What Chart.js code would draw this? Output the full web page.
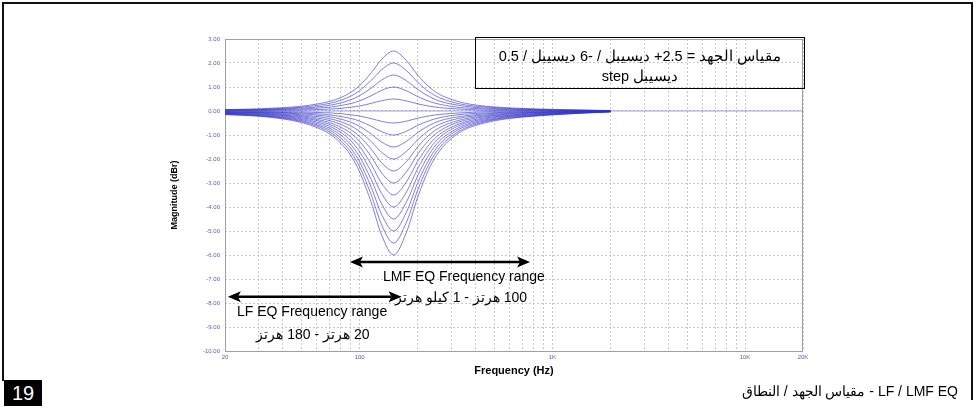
<!DOCTYPE html>
<html><head><meta charset="utf-8">
<script src="https://cdn.jsdelivr.net/npm/chart.js@4"></script>
<style>
html,body{margin:0;padding:0;background:#fff;}
#wrap{position:relative;width:978px;height:408px;overflow:hidden;font-family:Arial,"Liberation Sans",sans-serif;}
canvas{position:absolute;left:0;top:0;}
.abs{position:absolute;white-space:nowrap;color:#000;}
.ln{position:absolute;background:#111;}
</style></head><body>
<div id="wrap">
<canvas id="c" width="978" height="408"></canvas>
<div class="ln" style="left:2px;top:2px;width:971px;height:2px"></div>
<div class="ln" style="left:2px;top:2px;width:2px;height:379px"></div>
<div class="ln" style="left:971px;top:2px;width:2px;height:398px"></div>
<div class="abs" style="left:475px;top:37px;width:330px;height:52px;box-sizing:border-box;border:1.5px solid #000;"></div>
<div class="abs" dir="rtl" style="left:476px;top:47px;width:328px;text-align:center;font-size:14.5px;line-height:19.5px;">مقياس الجهد = 2.5+ ديسيبل / -6 ديسيبل / 0.5<br>ديسيبل step</div>
<div class="abs" style="left:383px;top:268px;font-size:14px;line-height:16px;">LMF EQ Frequency range</div>
<div class="abs" dir="rtl" style="left:381px;top:289px;width:160px;text-align:center;font-size:14px;line-height:16px;">100 هرتز - 1 كيلو هرتز</div>
<div class="abs" style="left:237px;top:303px;font-size:14px;line-height:16px;">LF EQ Frequency range</div>
<div class="abs" dir="rtl" style="left:233px;top:326px;width:160px;text-align:center;font-size:14px;line-height:16px;">20 هرتز - 180 هرتز</div>
<div class="abs" dir="rtl" style="right:20px;top:383px;font-size:14px;line-height:16px;">LF / LMF EQ - مقياس الجهد / النطاق</div>
<div class="abs" style="left:4px;top:380px;width:38px;height:26px;background:#000;color:#fff;font-size:20px;line-height:26px;text-align:center;">19</div>
</div>
<script>
const freqs = [20,30,40,50,60,70,80,90,100,115,130,150,175,200,230,260,300,350,400,500,600,800,1000,1500,2000];

const gainP25 = [0.06,0.09,0.14,0.2,0.29,0.4,0.56,0.78,1.06,1.6,2.15,2.5,2.1,1.5,0.99,0.69,0.48,0.33,0.25,0.17,0.13,0.09,0.07,0.04,0.02];
const gainP20 = [0.05,0.07,0.11,0.16,0.23,0.32,0.45,0.62,0.85,1.28,1.72,2,1.68,1.2,0.79,0.55,0.38,0.26,0.2,0.14,0.1,0.07,0.05,0.03,0.01];
const gainP15 = [0.04,0.06,0.08,0.12,0.17,0.24,0.34,0.47,0.64,0.96,1.29,1.5,1.26,0.9,0.6,0.41,0.29,0.2,0.15,0.1,0.08,0.06,0.04,0.02,0.01];
const gainP10 = [0.03,0.04,0.06,0.08,0.12,0.16,0.23,0.31,0.42,0.64,0.86,1,0.84,0.6,0.4,0.28,0.19,0.13,0.1,0.07,0.05,0.04,0.03,0.01,0.01];
const gainP05 = [0.01,0.02,0.03,0.04,0.06,0.08,0.11,0.16,0.21,0.32,0.43,0.5,0.42,0.3,0.2,0.14,0.1,0.07,0.05,0.03,0.03,0.02,0.01,0.01,0];
const gainM05 = [-0.01,-0.02,-0.03,-0.04,-0.06,-0.08,-0.11,-0.16,-0.21,-0.32,-0.43,-0.5,-0.42,-0.3,-0.2,-0.14,-0.1,-0.07,-0.05,-0.03,-0.03,-0.02,-0.01,-0.01,0];
const gainM10 = [-0.03,-0.04,-0.06,-0.08,-0.12,-0.16,-0.23,-0.31,-0.42,-0.64,-0.86,-1,-0.84,-0.6,-0.4,-0.28,-0.19,-0.13,-0.1,-0.07,-0.05,-0.04,-0.03,-0.01,-0.01];
const gainM15 = [-0.04,-0.06,-0.08,-0.12,-0.17,-0.24,-0.34,-0.47,-0.64,-0.96,-1.29,-1.5,-1.26,-0.9,-0.6,-0.41,-0.29,-0.2,-0.15,-0.1,-0.08,-0.06,-0.04,-0.02,-0.01];
const gainM20 = [-0.05,-0.07,-0.11,-0.16,-0.23,-0.32,-0.45,-0.62,-0.85,-1.28,-1.72,-2,-1.68,-1.2,-0.79,-0.55,-0.38,-0.26,-0.2,-0.14,-0.1,-0.07,-0.05,-0.03,-0.01];
const gainM25 = [-0.06,-0.09,-0.14,-0.2,-0.29,-0.4,-0.56,-0.78,-1.06,-1.6,-2.15,-2.5,-2.1,-1.5,-0.99,-0.69,-0.48,-0.33,-0.25,-0.17,-0.13,-0.09,-0.07,-0.04,-0.02];
const gainM30 = [-0.08,-0.11,-0.17,-0.24,-0.35,-0.48,-0.68,-0.93,-1.27,-1.91,-2.58,-3,-2.53,-1.8,-1.19,-0.83,-0.57,-0.39,-0.3,-0.2,-0.16,-0.11,-0.08,-0.04,-0.02];
const gainM35 = [-0.09,-0.13,-0.19,-0.28,-0.4,-0.56,-0.79,-1.09,-1.48,-2.23,-3.01,-3.5,-2.95,-2.1,-1.39,-0.97,-0.67,-0.46,-0.35,-0.24,-0.18,-0.13,-0.09,-0.05,-0.02];
const gainM40 = [-0.1,-0.15,-0.22,-0.32,-0.46,-0.64,-0.9,-1.24,-1.7,-2.55,-3.44,-4,-3.37,-2.4,-1.59,-1.1,-0.76,-0.52,-0.4,-0.27,-0.21,-0.15,-0.11,-0.06,-0.02];
const gainM45 = [-0.11,-0.17,-0.25,-0.36,-0.52,-0.72,-1.01,-1.4,-1.91,-2.87,-3.87,-4.5,-3.79,-2.7,-1.79,-1.24,-0.86,-0.59,-0.45,-0.31,-0.23,-0.17,-0.12,-0.06,-0.03];
const gainM50 = [-0.13,-0.19,-0.28,-0.4,-0.58,-0.8,-1.13,-1.55,-2.12,-3.19,-4.31,-5,-4.21,-3,-1.99,-1.38,-0.95,-0.65,-0.5,-0.34,-0.26,-0.19,-0.14,-0.07,-0.03];
const gainM55 = [-0.14,-0.2,-0.3,-0.44,-0.63,-0.88,-1.24,-1.71,-2.33,-3.51,-4.74,-5.5,-4.63,-3.3,-2.18,-1.52,-1.05,-0.72,-0.55,-0.37,-0.29,-0.2,-0.15,-0.08,-0.03];
const gainM60 = [-0.15,-0.22,-0.33,-0.48,-0.69,-0.96,-1.35,-1.86,-2.54,-3.83,-5.17,-6,-5.05,-3.6,-2.38,-1.66,-1.14,-0.78,-0.6,-0.41,-0.31,-0.22,-0.16,-0.08,-0.04];

const flatFreqs = [20, 20000];
const flatGain = [0, 0];

const yTickValues = [3,2,1,0,-1,-2,-3,-4,-5,-6,-7,-8,-9,-10];
const yTickLabels = ['3.00','2.00','1.00','0.00','-1.00','-2.00','-3.00','-4.00','-5.00','-6.00','-7.00','-8.00','-9.00','-10.00'];
const xGridValues = [20,30,40,50,60,70,80,90,100,200,300,400,500,600,700,800,900,1000,2000,3000,4000,5000,6000,7000,8000,9000,10000,20000];
const xLabelValues = [20,100,1000,10000,20000];
const xLabelTexts = ['20','100','1K','10K','20K'];

const lmfArrowRange = [89, 766];
const lmfArrowLevel = -6.29;
const lfArrowRange = [20.7, 165];
const lfArrowLevel = -7.74;

const curves = [gainP25,gainP20,gainP15,gainP10,gainP05,gainM05,gainM10,gainM15,gainM20,gainM25,gainM30,gainM35,gainM40,gainM45,gainM50,gainM55,gainM60];
const lineColor = 'rgba(50,50,200,0.62)';
const datasets = curves.map(vals => ({
  data: freqs.map((f,i) => ({x:f, y:vals[i]})),
  borderColor: lineColor, borderWidth: 1, pointRadius: 0,
  cubicInterpolationMode: 'monotone', fill: false
}));
datasets.push({
  data: flatFreqs.map((f,i) => ({x:f, y:flatGain[i]})),
  borderColor: 'rgba(90,90,200,0.55)', borderWidth: 1, pointRadius: 0, fill: false
});

function drawArrow(ctx, x1, x2, y){
  const L = 13, H = 5.5;
  ctx.save();
  ctx.strokeStyle = '#000'; ctx.fillStyle = '#000'; ctx.lineWidth = 2.5;
  ctx.beginPath(); ctx.moveTo(x1 + L - 3, y); ctx.lineTo(x2 - L + 3, y); ctx.stroke();
  ctx.beginPath(); ctx.moveTo(x1, y); ctx.lineTo(x1 + L, y - H); ctx.lineTo(x1 + L - 3, y); ctx.lineTo(x1 + L, y + H); ctx.closePath(); ctx.fill();
  ctx.beginPath(); ctx.moveTo(x2, y); ctx.lineTo(x2 - L, y - H); ctx.lineTo(x2 - L + 3, y); ctx.lineTo(x2 - L, y + H); ctx.closePath(); ctx.fill();
  ctx.restore();
}

const framePlugin = {
  id: 'frameArrows',
  beforeDatasetsDraw(chart){
    const {ctx, chartArea: a} = chart;
    ctx.save();
    ctx.strokeStyle = '#a0a0a0'; ctx.lineWidth = 1;
    ctx.strokeRect(Math.round(a.left) + 0.5, Math.round(a.top) + 0.5, Math.round(a.right - a.left) - 1, Math.round(a.bottom - a.top));
    ctx.restore();
  },
  afterDatasetsDraw(chart){
    const {ctx, scales: {x, y}} = chart;
    drawArrow(ctx, x.getPixelForValue(lmfArrowRange[0]), x.getPixelForValue(lmfArrowRange[1]), y.getPixelForValue(lmfArrowLevel));
    drawArrow(ctx, x.getPixelForValue(lfArrowRange[0]), x.getPixelForValue(lfArrowRange[1]), y.getPixelForValue(lfArrowLevel));
  }
};

new Chart(document.getElementById('c'), {
  type: 'line',
  data: { datasets },
  plugins: [framePlugin],
  options: {
    responsive: false, animation: false, devicePixelRatio: 1,
    layout: { padding: { left: 165, top: 39, right: 175, bottom: 29 } },
    plugins: { legend: { display: false }, tooltip: { enabled: false } },
    scales: {
      x: {
        type: 'logarithmic', min: 20, max: 20000,
        afterBuildTicks: s => { s.ticks = xGridValues.map(v => ({value: v})); },
        afterFit: s => { s.height = 28; },
        ticks: {
          autoSkip: false, maxRotation: 0, padding: 3,
          font: { size: 6, family: 'Arial' }, color: '#5a5ab4',
          callback: v => { const i = xLabelValues.indexOf(v); return i >= 0 ? xLabelTexts[i] : ''; }
        },
        grid: { color: '#c8c8c8', lineWidth: 1, drawTicks: false },
        border: { display: false, dash: [2, 2] },
        title: { display: true, text: 'Frequency (Hz)', font: { size: 11, weight: 'bold', family: 'Arial' }, color: '#000', padding: { top: 0, bottom: 1.5 } }
      },
      y: {
        type: 'linear', min: -10, max: 3,
        afterBuildTicks: s => { s.ticks = yTickValues.map(v => ({value: v})); },
        afterFit: s => { s.width = 60; },
        ticks: {
          padding: 5, font: { size: 6, family: 'Arial' }, color: '#5a5ab4',
          callback: v => { const i = yTickValues.indexOf(v); return i >= 0 ? yTickLabels[i] : ''; }
        },
        grid: { color: '#c8c8c8', lineWidth: 1, drawTicks: false },
        border: { display: false, dash: [2, 2] },
        title: { display: true, text: 'Magnitude (dBr)', font: { size: 9, weight: 'bold', family: 'Arial' }, color: '#000', padding: { top: 4.5, bottom: 0 } }
      }
    }
  }
});
</script>
</body></html>
